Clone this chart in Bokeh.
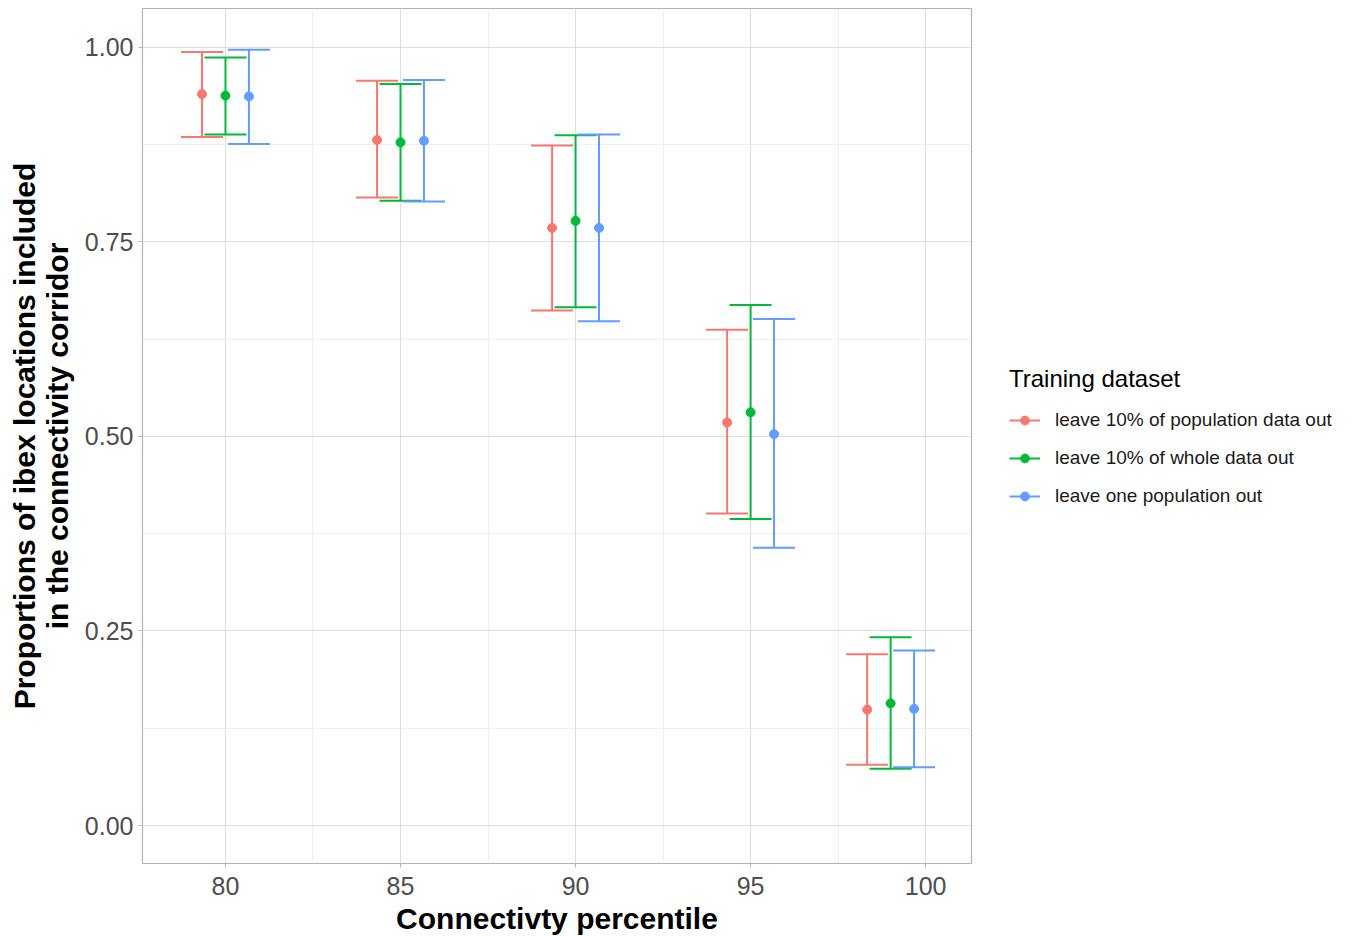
from bokeh.plotting import figure
from bokeh.models import (ColumnDataSource, FixedTicker, NumeralTickFormatter,
                          Legend, LegendItem, Range1d)
from bokeh.embed import file_html
from bokeh.resources import INLINE

# ---- data -----------------------------------------------------------------
percentiles = [80, 85, 90, 95, 99]
series_names = ["leave 10% of population data out",
                "leave 10% of whole data out",
                "leave one population out"]
series_colors = ["#F8766D", "#00BA38", "#619CFF"]
dodge_offsets = [-0.67, 0.0, 0.67]

pop_mean = [0.940, 0.881, 0.768, 0.518, 0.149]
pop_lower = [0.885, 0.807, 0.662, 0.401, 0.078]
pop_upper = [0.994, 0.957, 0.874, 0.637, 0.220]

whole_mean = [0.938, 0.878, 0.777, 0.531, 0.157]
whole_lower = [0.888, 0.803, 0.666, 0.394, 0.073]
whole_upper = [0.987, 0.953, 0.887, 0.669, 0.242]

one_mean = [0.937, 0.880, 0.768, 0.503, 0.150]
one_lower = [0.876, 0.802, 0.648, 0.357, 0.075]
one_upper = [0.997, 0.958, 0.888, 0.651, 0.225]

means = [pop_mean, whole_mean, one_mean]
lowers = [pop_lower, whole_lower, one_lower]
uppers = [pop_upper, whole_upper, one_upper]

x_ticks = [80, 85, 90, 95, 100]
x_minor = [82.5, 87.5, 92.5, 97.5]
y_ticks = [0.0, 0.25, 0.5, 0.75, 1.0]
y_minor = [0.125, 0.375, 0.625, 0.875]

cap_half = 0.6

FONT = "Liberation Sans"

# ---- figure ---------------------------------------------------------------
p = figure(frame_width=829, frame_height=855,
           x_range=Range1d(77.63, 101.31), y_range=Range1d(-0.0488, 1.050),
           output_backend="svg", toolbar_location=None,
           min_border_left=142, min_border_top=8, min_border_bottom=72,
           min_border_right=0)
p.background_fill_color = "white"
p.border_fill_color = "white"
p.outline_line_color = "#B3B3B3"
p.outline_line_width = 1.2

p.xaxis.ticker = FixedTicker(ticks=x_ticks, minor_ticks=x_minor)
p.yaxis.ticker = FixedTicker(ticks=y_ticks, minor_ticks=y_minor)
p.yaxis.formatter = NumeralTickFormatter(format="0.00")

for ax in (p.xaxis, p.yaxis):
    ax.axis_line_color = None
    ax.major_tick_line_color = "#B3B3B3"
    ax.major_tick_out = 4
    ax.major_tick_in = 0
    ax.minor_tick_line_color = None
    ax.major_label_text_font = FONT
    ax.major_label_text_font_size = "25px"
    ax.major_label_text_color = "#4D4D4D"
    ax.axis_label_text_font = FONT
    ax.axis_label_text_font_style = "bold"
    ax.axis_label_text_font_size = "30px"
    ax.axis_label_text_color = "black"
    ax.major_label_standoff = 5

p.xaxis.major_label_standoff = 9
p.xaxis.axis_label = "Connectivty percentile"
p.xaxis.axis_label_standoff = 4
p.yaxis.axis_label = "Proportions of ibex locations included\nin the connectivity corridor"
p.yaxis.axis_label_standoff = 8
p.yaxis.axis_label_text_line_height = 1.0

for g in (p.xgrid, p.ygrid):
    g.grid_line_color = "#DEDEDE"
    g.grid_line_width = 1
    g.minor_grid_line_color = "#EFEFEF"
    g.minor_grid_line_width = 1

items = []
for name, col, off, m, lo, up in zip(series_names, series_colors, dodge_offsets,
                                     means, lowers, uppers):
    xs = [x + off for x in percentiles]
    src = ColumnDataSource(dict(
        x=xs, mean=m, lower=lo, upper=up,
        cx0=[x - cap_half for x in xs], cx1=[x + cap_half for x in xs]))
    whisk = p.segment(x0="x", y0="lower", x1="x", y1="upper", source=src,
                      line_color=col, line_width=2)
    p.segment(x0="cx0", y0="lower", x1="cx1", y1="lower", source=src,
              line_color=col, line_width=2)
    p.segment(x0="cx0", y0="upper", x1="cx1", y1="upper", source=src,
              line_color=col, line_width=2)
    pts = p.scatter(x="x", y="mean", source=src, size=9, fill_color=col,
                    line_color=col)
    items.append(LegendItem(label=name, renderers=[whisk, pts]))

legend = Legend(items=items, title="Training dataset", location="left")
legend.title_text_font = FONT
legend.title_text_font_size = "24px"
legend.title_text_font_style = "normal"
legend.title_text_color = "black"
legend.title_standoff = 16
legend.label_text_font = FONT
legend.label_text_font_size = "19px"
legend.label_text_color = "#1A1A1A"
legend.glyph_width = 31
legend.glyph_height = 22
legend.label_height = 22
legend.label_standoff = 15
legend.spacing = 16
legend.padding = 0
legend.margin = 38
legend.border_line_color = None
legend.background_fill_alpha = 0
p.add_layout(legend, "right")

open("out.html", "w").write(file_html(p, INLINE))
